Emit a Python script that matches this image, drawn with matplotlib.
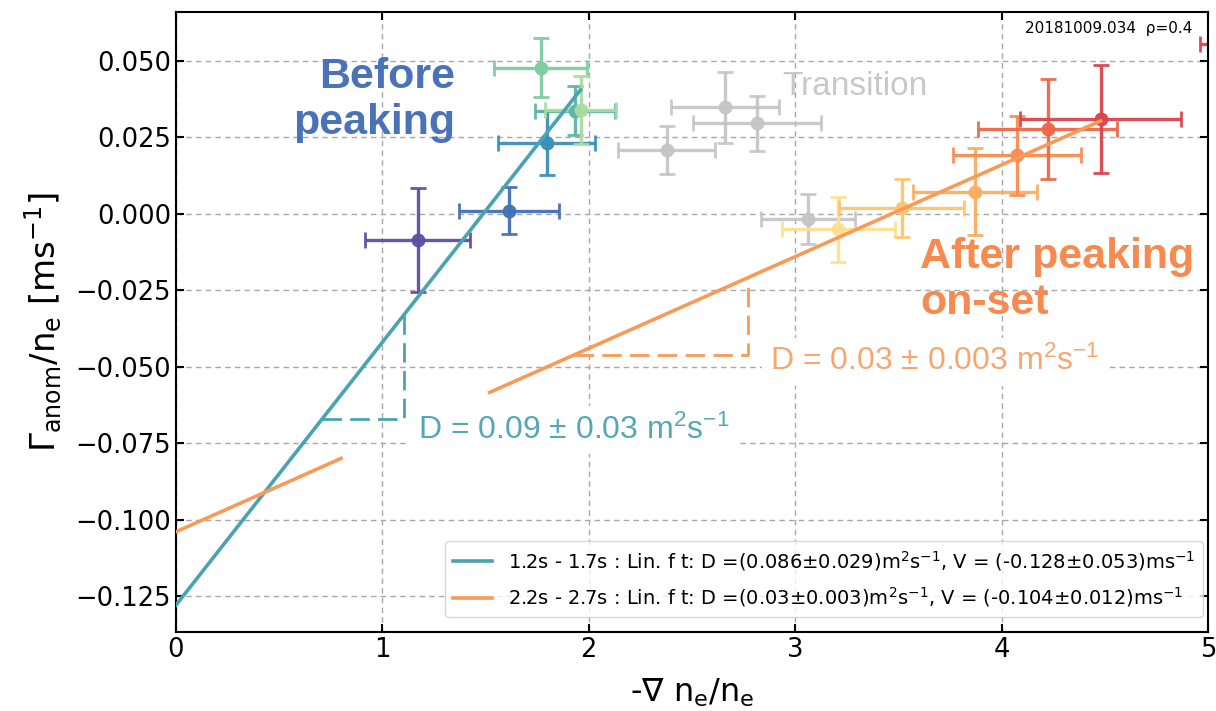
import matplotlib
matplotlib.use('Agg')
import matplotlib.pyplot as plt
import numpy as np

plt.rcParams['mathtext.default'] = 'regular'
plt.rcParams['font.family'] = 'DejaVu Sans'

# before peaking (1.2s - 1.7s)
before_x = [1.172, 1.613, 1.797, 1.933, 1.768, 1.962]
before_y = [-0.0085, 0.0010, 0.0232, 0.0338, 0.0478, 0.0340]
before_xerr = [0.254, 0.242, 0.235, 0.194, 0.225, 0.172]
before_yerr = [0.0170, 0.0077, 0.0105, 0.0080, 0.0096, 0.0110]
before_colors = ['#5e4fa2', '#4271b4', '#3a8fbb', '#5bb5a6', '#7ecca0', '#a8dca1']

# transition
trans_x = [2.377, 2.660, 2.813, 3.064]
trans_y = [0.0209, 0.0348, 0.0297, -0.0017]
trans_xerr = [0.237, 0.262, 0.310, 0.228]
trans_yerr = [0.0077, 0.0115, 0.0090, 0.0083]

# after peaking on-set (2.2s - 2.7s)
after_x = [3.209, 3.516, 3.871, 4.073, 4.223, 4.480, 5.450]
after_y = [-0.0050, 0.0019, 0.0073, 0.0191, 0.0278, 0.0311, 0.0556]
after_xerr = [0.275, 0.303, 0.300, 0.310, 0.336, 0.390, 0.490]
after_yerr = [0.0106, 0.0095, 0.0142, 0.0130, 0.0163, 0.0176, 0.0180]
after_colors = ['#fee08b', '#fec46e', '#fdad5e', '#f98c50', '#ef6646', '#d9444e', '#d9444e']

# linear fits
D1, V1 = 0.086, -0.128
D2, V2 = 0.030, -0.104
fit1_x = [0.0, 1.96]
fit2_x_low = [0.0, 0.80]
fit2_x_high = [1.52, 4.48]

teal = '#4aa3b3'
orange = '#f99a58'

fig = plt.figure(figsize=(12.16, 7.11), dpi=100)
ax = fig.add_axes([0.1447, 0.111, 0.8487, 0.872])

ebkw = dict(fmt='o', ms=9, lw=2.4, capsize=6, capthick=2, zorder=2)
for x, y, xe, ye, c in zip(before_x, before_y, before_xerr, before_yerr, before_colors):
    ax.errorbar(x, y, xerr=xe, yerr=ye, color=c, alpha=0.95, **ebkw)
for x, y, xe, ye in zip(trans_x, trans_y, trans_xerr, trans_yerr):
    ax.errorbar(x, y, xerr=xe, yerr=ye, color='#c4c4c4', alpha=0.9, **ebkw)
for x, y, xe, ye, c in zip(after_x, after_y, after_xerr, after_yerr, after_colors):
    ax.errorbar(x, y, xerr=xe, yerr=ye, color=c, alpha=0.95, **ebkw)

fx = np.array(fit1_x)
ax.plot(fx, V1 + D1 * fx, color=teal, lw=2.6, zorder=3,
        label=r'1.2s - 1.7s : Lin. f t: D =(0.086$\pm$0.029)m$^2$s$^{-1}$, V = (-0.128$\pm$0.053)ms$^{-1}$')
fx = np.array(fit2_x_low)
ax.plot(fx, V2 + D2 * fx, color=orange, lw=2.6, zorder=3,
        label=r'2.2s - 2.7s : Lin. f t: D =(0.03$\pm$0.003)m$^2$s$^{-1}$, V = (-0.104$\pm$0.012)ms$^{-1}$')
fx = np.array(fit2_x_high)
ax.plot(fx, V2 + D2 * fx, color=orange, lw=2.6, zorder=3)

# slope triangles
t1a, t1b = 0.707, 1.105
ax.plot([t1a, t1b, t1b], [V1 + D1 * t1a, V1 + D1 * t1a, V1 + D1 * t1b],
        color=teal, lw=2, dashes=(7, 3), zorder=3)
t2a, t2b = 1.93, 2.77
ax.plot([t2a, t2b, t2b], [V2 + D2 * t2a, V2 + D2 * t2a, V2 + D2 * t2b],
        color=orange, lw=2, dashes=(7, 3), zorder=3)

box = dict(facecolor='white', edgecolor='none', pad=6)
ax.text(1.172, -0.0707, r'D = 0.09 $\pm$ 0.03 m$^{2}$s$^{-1}$', color=teal, alpha=0.95,
        fontsize=23, family='Liberation Sans', ha='left', va='center', bbox=box, zorder=4)
ax.text(2.878, -0.0484, r'D = 0.03 $\pm$ 0.003 m$^{2}$s$^{-1}$', color='#f7a66e',
        fontsize=23, family='Liberation Sans', ha='left', va='center', bbox=box, zorder=4)

ax.text(1.352, 0.0373, 'Before\npeaking', color='#4a72b8', fontsize=31, fontweight='bold',
        family='Liberation Sans', ha='right', va='center', multialignment='right', zorder=4)
ax.text(3.605, -0.0216, 'After peaking\non-set', color='#f78a4f', fontsize=31, fontweight='bold',
        family='Liberation Sans', ha='left', va='center', multialignment='left', zorder=4)
ax.text(2.936, 0.0416, 'Transition', color='#c8c8c8', fontsize=24,
        family='Liberation Sans', ha='left', va='center', zorder=4)

ax.text(0.985, 0.985, '20181009.034  ρ=0.4', transform=ax.transAxes, fontsize=11,
        ha='right', va='top')

ax.set_xlim(0, 5)
ax.set_ylim(-0.1368, 0.066)
ax.set_xticks([0, 1, 2, 3, 4, 5])
ax.set_yticks([-0.125, -0.100, -0.075, -0.050, -0.025, 0.000, 0.025, 0.050])
ax.yaxis.set_major_formatter(matplotlib.ticker.FuncFormatter(
    lambda v, p: ('%.3f' % v).replace('-', '\u2212')))
ax.tick_params(direction='in', length=6, width=1.5, labelsize=18.5, top=True, right=True)
for s in ax.spines.values():
    s.set_linewidth(1.5)
ax.grid(True, color='#a8a8a8', lw=1, dashes=(4, 3))
ax.set_axisbelow(True)

ax.set_xlabel(r'-$\nabla$ n$_e$/n$_e$', fontsize=23, labelpad=10)
ax.set_ylabel(r'$\Gamma_{anom}$/n$_e$ [ms$^{-1}$]', fontsize=24.5, labelpad=8)

leg = ax.legend(loc='lower right', bbox_to_anchor=(0.995, 0.024), borderaxespad=0,
                prop={'family': 'Liberation Sans Narrow', 'size': 14},
                handlelength=2.0, labelspacing=0.65)

fig.savefig('out.png', dpi=100)
